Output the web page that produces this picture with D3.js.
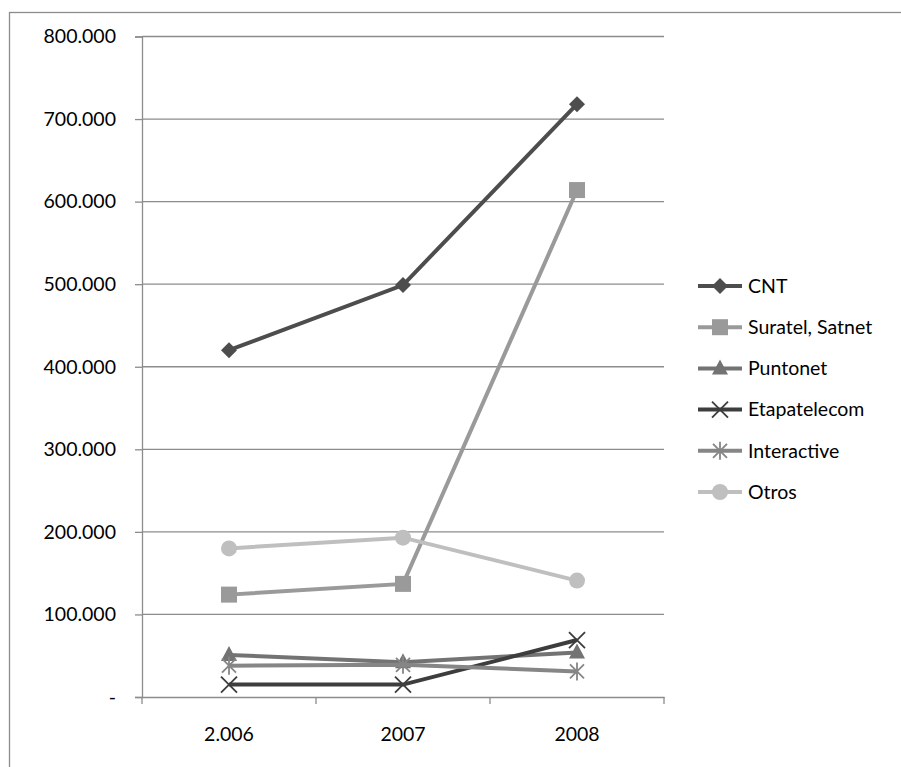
<!DOCTYPE html>
<html><head><meta charset="utf-8">
<script src="https://cdn.jsdelivr.net/npm/d3@7"></script>
<style>body{margin:0;background:#fff}svg{display:block}</style>
</head><body>
<script>
const categories = ["2.006", "2007", "2008"];
const seriesNames = ["CNT", "Suratel, Satnet", "Puntonet", "Etapatelecom", "Interactive", "Otros"];
const cnt = [420000, 499000, 718000];
const suratel = [124000, 137000, 614000];
const puntonet = [51000, 42000, 54000];
const etapa = [15000, 15000, 69000];
const interactive = [38000, 39000, 31000];
const otros = [180000, 193000, 141000];
const yTicks = [0, 100000, 200000, 300000, 400000, 500000, 600000, 700000, 800000];

const colors = ["#4d4d4d", "#9a9a9a", "#737373", "#3d3d3d", "#868686", "#bfbfbf"];
const markers = ["diamond", "square", "triangle", "x", "star", "circle"];
const data = [cnt, suratel, puntonet, etapa, interactive, otros];

const W = 901, H = 767;
const svg = d3.select("body").append("svg").attr("width", W).attr("height", H);
svg.append("rect").attr("x", 9.5).attr("y", 12.5).attr("width", 1000).attr("height", 1000)
  .attr("fill", "none").attr("stroke", "#8c8c8c").attr("stroke-width", 1.3);

const pL = 142, pR = 664, pT = 36.5, pB = 697;
const x = d3.scaleBand().domain(categories).range([pL, pR]);
const y = d3.scaleLinear().domain([0, 800000]).range([pB, pT]);
const fmt = v => v === 0 ? "-" : d3.format(",")(v).replace(/,/g, ".");
const font = "Lato, 'Open Sans', sans-serif";
const fs = 19.5;

svg.append("g").selectAll("line").data(yTicks.filter(d => d > 0)).join("line")
  .attr("x1", pL).attr("x2", pR).attr("y1", d => y(d)).attr("y2", d => y(d))
  .attr("stroke", "#8c8c8c").attr("stroke-width", 1.3);

const ya = svg.append("g").attr("transform", `translate(${pL},0)`)
  .call(d3.axisLeft(y).tickValues(yTicks).tickFormat(fmt).tickSize(7).tickPadding(19));
ya.select(".domain").attr("stroke", "#8c8c8c").attr("stroke-width", 1.3);
ya.selectAll(".tick line").attr("stroke", "#8c8c8c").attr("stroke-width", 1.3);
ya.selectAll("text").attr("font-family", font).attr("font-size", fs).attr("fill", "#000");

const xa = svg.append("g").attr("transform", `translate(0,${pB})`)
  .call(d3.axisBottom(x).tickSize(0).tickPadding(30));
xa.select(".domain").attr("stroke", "#8c8c8c").attr("stroke-width", 1.3);
xa.selectAll("text").attr("font-family", font).attr("font-size", fs).attr("fill", "#000");
svg.append("g").selectAll("line").data(d3.range(categories.length + 1)).join("line")
  .attr("x1", i => pL + i * x.step()).attr("x2", i => pL + i * x.step())
  .attr("y1", pB).attr("y2", pB + 7).attr("stroke", "#8c8c8c").attr("stroke-width", 1.3);

function marker(g, type, cx, cy, color) {
  const s = 8;
  if (type === "diamond") g.append("path").attr("d", `M${cx},${cy-s}L${cx+s},${cy}L${cx},${cy+s}L${cx-s},${cy}Z`).attr("fill", color);
  else if (type === "square") g.append("rect").attr("x", cx-8).attr("y", cy-8).attr("width", 16).attr("height", 16).attr("fill", color);
  else if (type === "triangle") g.append("path").attr("d", `M${cx},${cy-9}L${cx+8},${cy+6}L${cx-8},${cy+6}Z`).attr("fill", color);
  else if (type === "circle") g.append("circle").attr("cx", cx).attr("cy", cy).attr("r", 8).attr("fill", color);
  else if (type === "x") g.append("path").attr("d", `M${cx-8},${cy-8}L${cx+8},${cy+8}M${cx-8},${cy+8}L${cx+8},${cy-8}`).attr("stroke", color).attr("stroke-width", 1.8);
  else if (type === "star") g.append("path").attr("d", `M${cx-7},${cy-7}L${cx+7},${cy+7}M${cx-7},${cy+7}L${cx+7},${cy-7}M${cx},${cy-9}L${cx},${cy+9}`).attr("stroke", color).attr("stroke-width", 1.8);
}

const line = d3.line().x((d, i) => x(categories[i]) + x.bandwidth() / 2).y(d => y(d));
data.forEach((vals, si) => {
  const g = svg.append("g");
  g.append("path").attr("d", line(vals)).attr("fill", "none").attr("stroke", colors[si]).attr("stroke-width", 4);
  vals.forEach((v, i) => marker(g, markers[si], x(categories[i]) + x.bandwidth() / 2, y(v), colors[si]));
});

const lg = svg.append("g");
seriesNames.forEach((name, i) => {
  const ly = 286 + i * 41.2;
  lg.append("line").attr("x1", 698).attr("x2", 742).attr("y1", ly).attr("y2", ly).attr("stroke", colors[i]).attr("stroke-width", 4);
  marker(lg, markers[i], 720, ly, colors[i]);
  lg.append("text").attr("x", 748).attr("y", ly).attr("dy", "0.35em").text(name)
    .attr("font-family", font).attr("font-size", fs).attr("fill", "#000");
});
</script>
</body></html>
